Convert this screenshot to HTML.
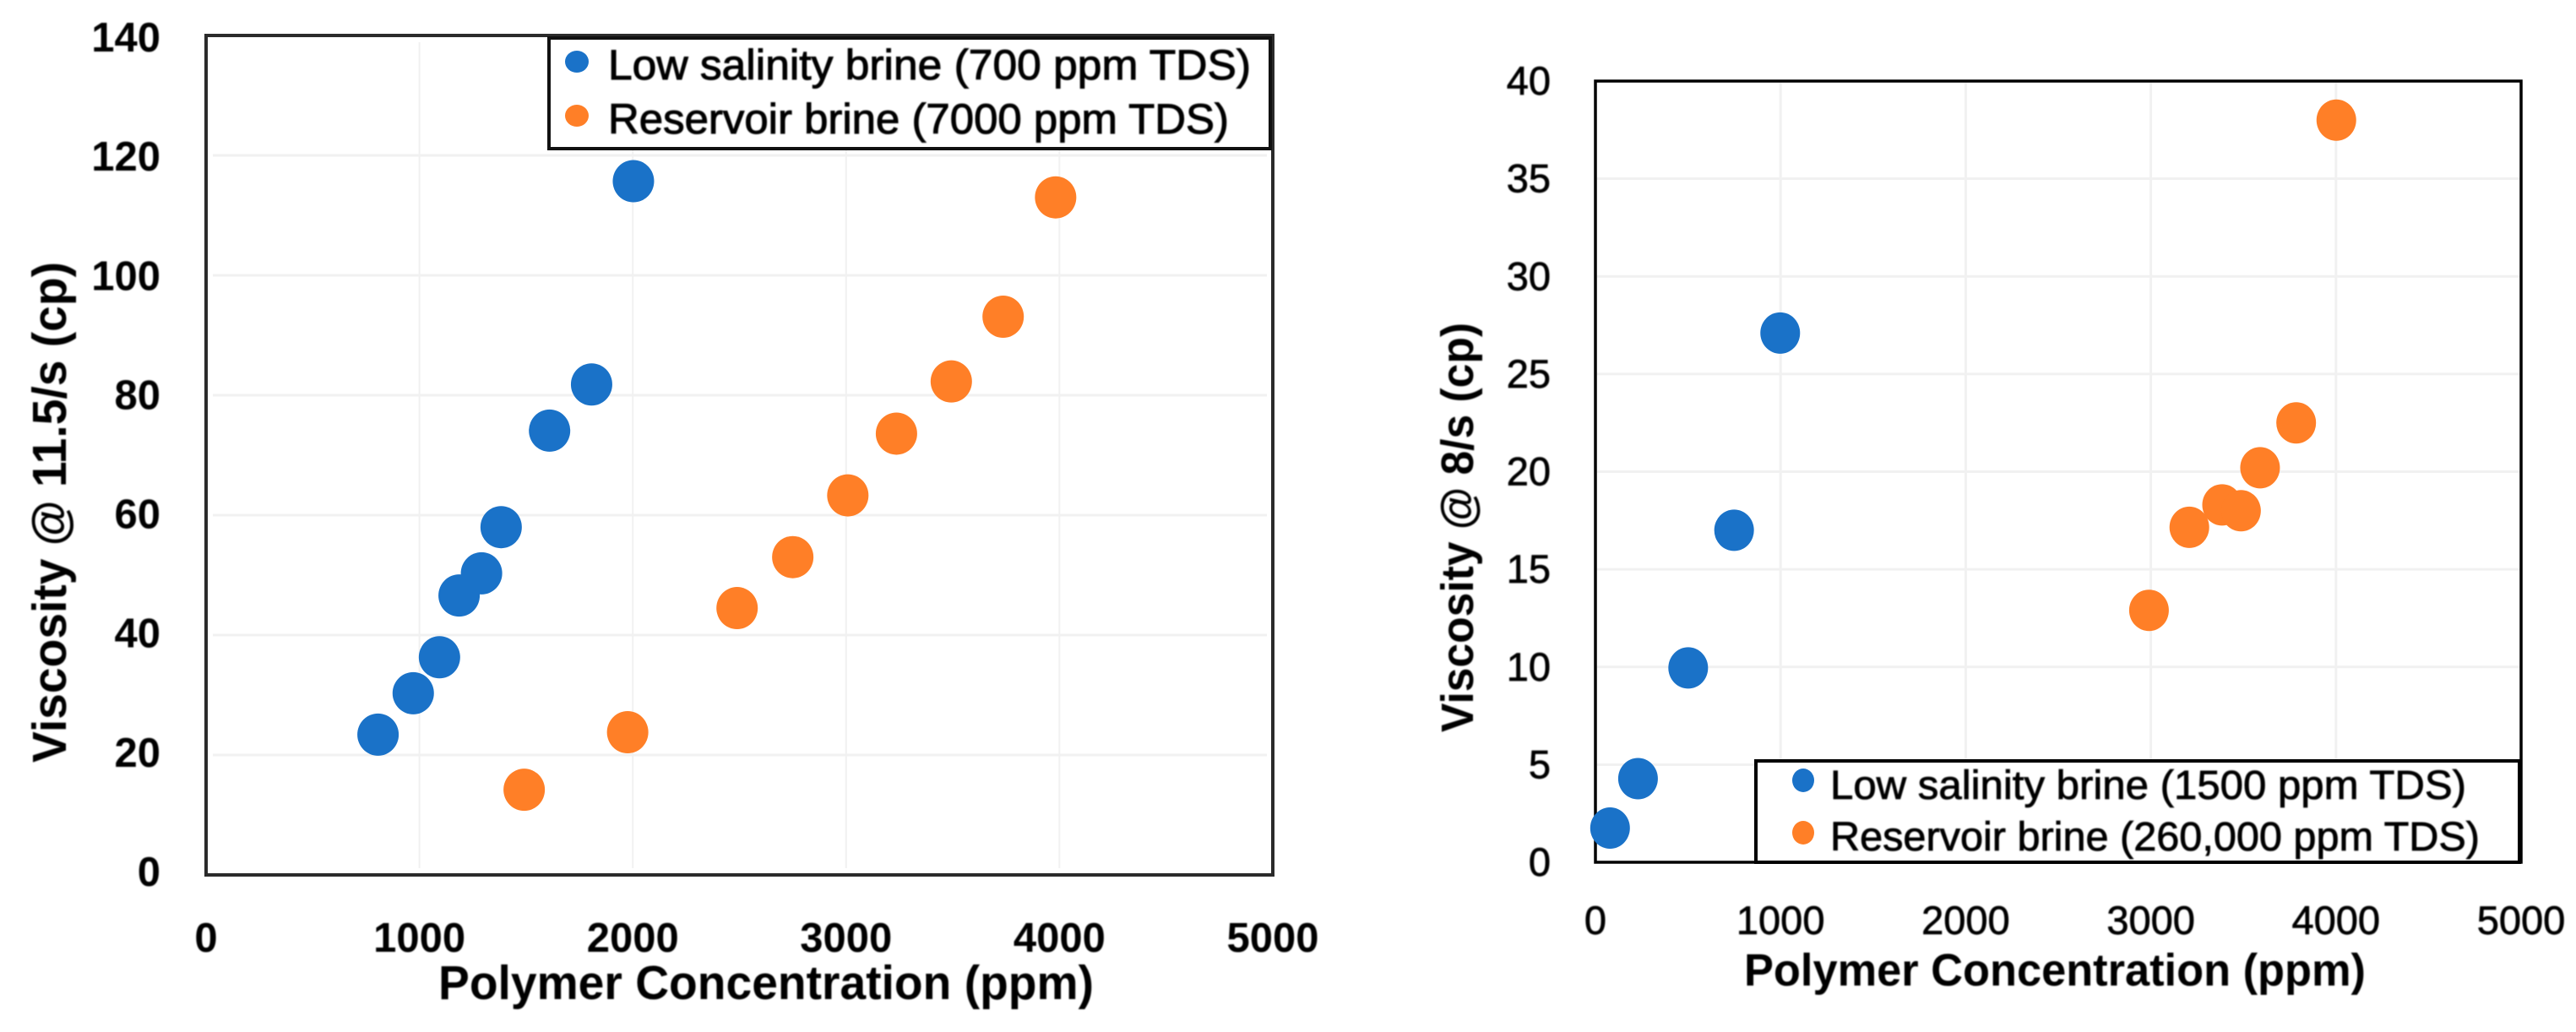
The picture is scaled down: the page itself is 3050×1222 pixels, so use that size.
<!DOCTYPE html>
<html lang="en">
<head>
<meta charset="utf-8">
<title>Polymer viscosity charts</title>
<style>
html,body{margin:0;padding:0;background:#fff;}
svg{display:block;}
text{font-family:"Liberation Sans",sans-serif;fill:#000;}
.soft{filter:url(#soften);}
.tick-a{font-size:49px;font-weight:700;}
.tick-b{font-size:47px;font-weight:400;stroke:#000;stroke-width:.7px;}
.title-a{font-size:57px;font-weight:700;}
.title-b{font-size:54px;font-weight:700;}
.legend-a{font-size:50px;font-weight:400;stroke:#000;stroke-width:1px;}
.legend-b{font-size:48px;font-weight:400;stroke:#000;stroke-width:.8px;}
</style>
</head>
<body>
<svg id="figure" xmlns="http://www.w3.org/2000/svg" width="3050" height="1222" viewBox="0 0 3050 1222">
  <defs>
    <filter id="soften" x="-5%" y="-5%" width="110%" height="110%"><feGaussianBlur stdDeviation="0.7"/></filter>
  </defs>
  <rect x="0" y="0" width="3050" height="1222" fill="#fff"/>

  <g id="left-chart">
    <g id="left-grid"></g>
    <g id="left-xticks" class="soft"></g>
    <g id="left-yticks" class="soft"></g>
    <text class="title-a soft" x="519" y="1183" textLength="776" lengthAdjust="spacingAndGlyphs">Polymer Concentration (ppm)</text>
    <text class="title-a soft" transform="translate(78,903) rotate(-90)" x="0" y="0" textLength="593" lengthAdjust="spacingAndGlyphs">Viscosity @ 11.5/s (cp)</text>
    <rect x="244" y="42" width="1263" height="994" fill="none" stroke="#2b2b2b" stroke-width="4"/>
    <g id="left-points"></g>
    <g>
      <rect x="650" y="45" width="854" height="131" fill="#fff" stroke="#111" stroke-width="4"/>
      <ellipse cx="683" cy="73" rx="14" ry="13" fill="#1a72c8"/>
      <text class="legend-a soft" x="720" y="94" textLength="761" lengthAdjust="spacingAndGlyphs">Low salinity brine (700 ppm TDS)</text>
      <ellipse cx="683" cy="137" rx="14" ry="13" fill="#ff7f27"/>
      <text class="legend-a soft" x="720" y="158" textLength="735" lengthAdjust="spacingAndGlyphs">Reservoir brine (7000 ppm TDS)</text>
    </g>
  </g>

  <g id="right-chart">
    <g id="right-grid"></g>
    <g id="right-xticks" class="soft"></g>
    <g id="right-yticks" class="soft"></g>
    <text class="title-b soft" x="2065" y="1167" textLength="736" lengthAdjust="spacingAndGlyphs">Polymer Concentration (ppm)</text>
    <text class="title-b soft" transform="translate(1744,867) rotate(-90)" x="0" y="0" textLength="485" lengthAdjust="spacingAndGlyphs">Viscosity @ 8/s (cp)</text>
    <rect x="1889" y="96" width="1096" height="925" fill="none" stroke="#000" stroke-width="3.5"/>
    <g id="right-points"></g>
    <g>
      <rect x="2079" y="901" width="904" height="120" fill="#fff" stroke="#000" stroke-width="4"/>
      <ellipse cx="2135" cy="924" rx="13" ry="14" fill="#1a72c8"/>
      <text class="legend-b soft" x="2167" y="946" textLength="753" lengthAdjust="spacingAndGlyphs">Low salinity brine (1500 ppm TDS)</text>
      <ellipse cx="2135" cy="986" rx="13" ry="14" fill="#ff7f27"/>
      <text class="legend-b soft" x="2167" y="1007" textLength="769" lengthAdjust="spacingAndGlyphs">Reservoir brine (260,000 ppm TDS)</text>
    </g>
  </g>
</svg>

<script>
// Left chart data
const leftXTicks = [0, 1000, 2000, 3000, 4000, 5000];
const leftYTicks = [0, 20, 40, 60, 80, 100, 120, 140];
const leftLowX = [806, 971, 1094, 1186, 1291, 1383, 1610, 1807, 2003];
const leftLowY = [23.4, 30.3, 36.3, 46.6, 50.3, 58, 74.1, 81.8, 115.7];
const leftResX = [1491, 1976, 2489, 2750, 3008, 3236, 3493, 3736, 3982];
const leftResY = [14.2, 23.8, 44.5, 53, 63.3, 73.6, 82.3, 93.1, 113];

// Right chart data
const rightXTicks = [0, 1000, 2000, 3000, 4000, 5000];
const rightYTicks = [0, 5, 10, 15, 20, 25, 30, 35, 40];
const rightLowX = [79, 230, 501, 749, 998];
const rightLowY = [1.75, 4.28, 9.95, 17.0, 27.1];
const rightResX = [2990, 3208, 3385, 3487, 3590, 3785, 4002];
const rightResY = [12.9, 17.15, 18.3, 18, 20.2, 22.5, 38];

const SVG_NS = 'http://www.w3.org/2000/svg';
const BLUE = '#1a72c8';
const ORANGE = '#ff7f27';

function makeScale(d0, d1, r0, r1) {
  return function (v) { return r0 + (v - d0) / (d1 - d0) * (r1 - r0); };
}

function gridLine(parent, x1, y1, x2, y2, w) {
  const el = document.createElementNS(SVG_NS, 'line');
  
  
  el.setAttribute('x1', x1);
  el.setAttribute('y1', y1);
  el.setAttribute('x2', x2);
  el.setAttribute('y2', y2);
  el.setAttribute('stroke', '#f1f1f1');
  el.setAttribute('stroke-width', w);
  parent.appendChild(el);
}

function tickLabel(parent, x, y, anchor, cls, value) {
  const el = document.createElementNS(SVG_NS, 'text');
  
  
  el.setAttribute('x', x);
  el.setAttribute('y', y);
  el.setAttribute('text-anchor', anchor);
  el.setAttribute('class', cls);
  el.textContent = String(value);
  parent.appendChild(el);
}

function dataPoint(parent, cx, cy, rx, ry, fill) {
  const el = document.createElementNS(SVG_NS, 'ellipse');
  
  
  el.setAttribute('cx', cx);
  el.setAttribute('cy', cy);
  el.setAttribute('rx', rx);
  el.setAttribute('ry', ry);
  el.setAttribute('fill', fill);
  parent.appendChild(el);
}

// Left chart
const leftX = makeScale(0, 5000, 244, 1507);
const leftY = makeScale(0, 140, 1036, 42);
const leftGrid = document.getElementById('left-grid');
const leftXT = document.getElementById('left-xticks');
const leftYT = document.getElementById('left-yticks');
const leftPts = document.getElementById('left-points');

leftXTicks.forEach(function (t) {
  if (t > 0 && t < 5000) gridLine(leftGrid, leftX(t), 50, leftX(t), 1028, 2);
  tickLabel(leftXT, leftX(t), 1127, 'middle', 'tick-a', t);
});
leftYTicks.forEach(function (t) {
  if (t > 0 && t < 140) gridLine(leftGrid, 252, leftY(t), 1500, leftY(t), 3);
  tickLabel(leftYT, 190, leftY(t) + 13 + t * 0.043, 'end', 'tick-a', t);
});
leftLowX.forEach(function (v, i) {
  dataPoint(leftPts, leftX(v), leftY(leftLowY[i]), 24.5, 25, BLUE);
});
leftResX.forEach(function (v, i) {
  dataPoint(leftPts, leftX(v), leftY(leftResY[i]), 24.5, 25, ORANGE);
});

// Right chart
const rightX = makeScale(0, 5000, 1889, 2985);
const rightY = makeScale(0, 40, 1021, 96);
const rightGrid = document.getElementById('right-grid');
const rightXT = document.getElementById('right-xticks');
const rightYT = document.getElementById('right-yticks');
const rightPts = document.getElementById('right-points');

rightXTicks.forEach(function (t) {
  if (t > 0 && t < 5000) gridLine(rightGrid, rightX(t), 98, rightX(t), 1019, 3);
  tickLabel(rightXT, rightX(t), 1106, 'middle', 'tick-b', t);
});
rightYTicks.forEach(function (t) {
  if (t > 0 && t < 40) gridLine(rightGrid, 1891, rightY(t), 2983, rightY(t), 3);
  tickLabel(rightYT, 1836, rightY(t) + 16, 'end', 'tick-b', t);
});
rightLowX.forEach(function (v, i) {
  dataPoint(rightPts, rightX(v), rightY(rightLowY[i]), 23.5, 24.5, BLUE);
});
rightResX.forEach(function (v, i) {
  dataPoint(rightPts, rightX(v), rightY(rightResY[i]), 23.5, 24.5, ORANGE);
});
</script>
</body>
</html>
